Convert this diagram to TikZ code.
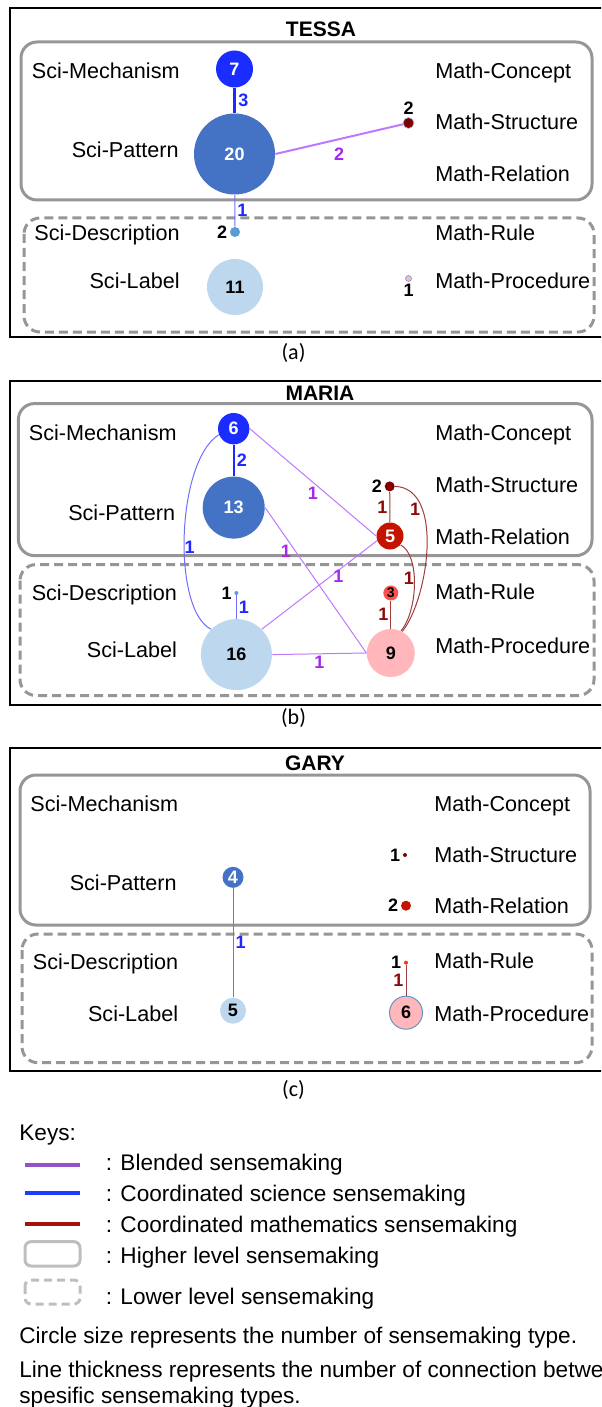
\documentclass[tikz,border=0pt]{standalone}
\usepackage{fontspec}
\setmainfont{Liberation Sans}
\newfontfamily\capfont{Carlito}
\usetikzlibrary{positioning}

\definecolor{smech}{RGB}{26,44,255}
\definecolor{spat}{RGB}{68,114,196}
\definecolor{sdesc}{RGB}{91,155,213}
\definecolor{slab}{RGB}{189,215,238}
\definecolor{mstruc}{RGB}{128,0,0}
\definecolor{mrel}{RGB}{196,20,0}
\definecolor{mrule}{RGB}{255,80,80}
\definecolor{mrulec}{RGB}{255,50,20}
\definecolor{mproc}{RGB}{255,183,187}
\definecolor{blendc}{RGB}{190,120,255}
\definecolor{blendt}{RGB}{165,40,235}
\definecolor{scic}{RGB}{30,40,255}
\definecolor{scithin}{RGB}{110,110,255}
\definecolor{mathc}{RGB}{160,60,60}
\definecolor{matht}{RGB}{140,10,10}
\definecolor{boxgray}{RGB}{150,150,150}
\definecolor{keygray}{RGB}{190,190,190}
\definecolor{keypurp}{RGB}{150,80,200}
\definecolor{keyblue}{RGB}{30,60,255}
\definecolor{keyred}{RGB}{165,20,10}

\begin{document}
\begin{tikzpicture}[x=0.5pt, y=-0.5pt,
  ptitle/.style={font=\fontsize{10.5}{12}\selectfont\bfseries, text height=7.5pt, text depth=0pt, inner sep=0pt},
  sciname/.style={anchor=east, font=\fontsize{10.8}{13}\selectfont, text height=7.7pt, text depth=0pt, inner sep=0pt},
  mathname/.style={sciname, anchor=west},
  sense/.style={circle, inner sep=0pt, minimum size=#1, font=\fontsize{9}{9}\selectfont\bfseries},
  cnt/.style={font=\fontsize{9}{9}\selectfont\bfseries, inner sep=1pt},
  wt/.style={font=\fontsize{9}{9}\selectfont\bfseries, inner sep=1pt, text=#1},
  bl/.style={draw=blendc, line width=#1}, bl/.default=0.5pt,
  scthick/.style={draw=scic, line width=#1},
  sc/.style={draw=scithin, line width=0.5pt},
  mt/.style={draw=mathc, line width=0.5pt},
  hibox/.style={draw=boxgray, line width=1.5pt, rounded corners=8pt},
  lobox/.style={hibox, dash pattern=on 4.5pt off 2.5pt},
  pframe/.style={draw=black, line width=1pt},
  capt/.style={font=\capfont\fontsize{11}{13}\selectfont},
  keytext/.style={anchor=west, font=\fontsize{11.3}{13}\selectfont, text height=8.1pt, text depth=0pt, inner sep=0pt}]
  \useasboundingbox (0,0) rectangle (601,1407);
  \clip (0,0) rectangle (601,1407);

  % (a) TESSA
  \draw[pframe] (9.6,8.4) rectangle (610,337);
  \node[ptitle] (ttlA) at (321,29.5) {TESSA};
  \draw[hibox] (21,42) rectangle (592,200);
  \draw[lobox] (24,218) rectangle (594,332);
  \node[sciname] (tsmA) at (180,70.5) {Sci-Mechanism};
  \node[sciname] (tspA) at (179,150) {Sci-Pattern};
  \node[sciname] (tsdA) at (180,233) {Sci-Description};
  \node[sciname] (tslA) at (180,281) {Sci-Label};
  \node[mathname] (tmcA) at (435,70.5) {Math-Concept};
  \node[mathname] (tmsA) at (435,121.5) {Math-Structure};
  \node[mathname] (tmrA) at (435,174) {Math-Relation};
  \node[mathname] (tmuA) at (435,233) {Math-Rule};
  \node[mathname] (tmpA) at (435,281) {Math-Procedure};
  \node[sense=18.5pt, fill=smech, text=white] (mechA) at (234.5,69) {7};
  \node[sense=40.5pt, fill=spat, text=white] (patA) at (234.5,154) {20};
  \node[sense=5pt, fill=sdesc, label={[cnt]left:2}] (sdA) at (235,232) {};
  \node[sense=28pt, fill=slab] (labA) at (235,287) {11};
  \node[sense=5.5pt, fill=mstruc, draw=sdesc!50, line width=0.3pt, label={[cnt]above:2}] (msA) at (408.5,123) {};
  \node[sense=3pt, fill=mproc, draw=sdesc, line width=0.3pt, label={[cnt]below:1}] (procA) at (408.5,278.5) {};
  \draw[scthick=1.75pt] (mechA) -- node[wt=scic, right]{3} (patA);
  \draw[bl=1pt] (patA.east) -- node[wt=blendt, pos=0.5, below=2.8pt]{2} (msA);
  \draw[sc] (patA) -- node[wt=scic, right]{1} (sdA);

  % (b) MARIA
  \draw[pframe] (9.6,381) rectangle (610,704.6);
  \node[ptitle] (ttlB) at (320,393) {MARIA};
  \draw[hibox] (18.4,403.6) rectangle (592,555.6);
  \draw[lobox] (20,564.6) rectangle (594,695.5);
  \node[sciname] (tsmB) at (177,433) {Sci-Mechanism};
  \node[sciname] (tspB) at (175.5,512.6) {Sci-Pattern};
  \node[sciname] (tsdB) at (177.4,593) {Sci-Description};
  \node[sciname] (tslB) at (177.4,649.5) {Sci-Label};
  \node[mathname] (tmcB) at (435,433) {Math-Concept};
  \node[mathname] (tmsB) at (435,485) {Math-Structure};
  \node[mathname] (tmrB) at (435,537) {Math-Relation};
  \node[mathname] (tmuB) at (435,592) {Math-Rule};
  \node[mathname] (tmpB) at (435,646) {Math-Procedure};
  \node[sense=15.7pt, fill=smech, text=white] (mechB) at (233.7,428.7) {6};
  \node[sense=31pt, fill=spat, text=white] (patB) at (233.7,507.6) {13};
  \node[sense=2pt, fill=sdesc, label={[cnt]left:1}] (sdB) at (236.4,593) {};
  \node[sense=35.5pt, fill=slab] (labB) at (236.4,654.6) {16};
  \node[sense=5pt, fill=mstruc, label={[cnt]left:2}] (msB) at (389.7,486.4) {};
  \node[sense=13.5pt, fill=mrel, text=white] (relB) at (390,536) {5};
  \node[sense=7.5pt, fill=mrule, font=\fontsize{7}{7}\selectfont\bfseries] (ruleB) at (390.8,593) {3};
  \node[sense=24pt, fill=mproc] (procB) at (390.8,653) {9};
  \draw[scthick=1.2pt] (mechB) -- node[wt=scic, right]{2} (patB);
  \draw[sc] (mechB.202) .. controls (176,462) and (172,610) .. node[wt=scic, pos=0.55, right=-1pt]{1} (labB.135);
  \draw[bl] (mechB.east) -- node[wt=blendt, pos=0.5, below=1pt]{1} (relB.west);
  \draw[bl] (patB.east) -- node[wt=blendt, pos=0.3, left=1pt]{1} (procB.west);
  \draw[bl] (labB.45) -- node[wt=blendt, pos=0.6, right=0pt]{1} (relB.200);
  \draw[bl] (labB.east) -- node[wt=blendt, below]{1} (procB.west);
  \draw[sc] (sdB) -- node[wt=scic, right]{1} (labB);
  \draw[mt] (msB) -- node[wt=matht, left]{1} (relB);
  \draw[mt] (msB.east) .. controls (445,488) and (428,600) .. node[wt=matht, pos=0.28, left]{1} (procB.62);
  \draw[mt] (relB.-40) .. controls (420,555) and (418,610) .. node[wt=matht, pos=0.45, left, inner sep=0pt]{1} (procB.65);
  \draw[mt] (ruleB) -- node[wt=matht, left]{1} (procB);

  % (c) GARY
  \draw[pframe] (9.6,748.3) rectangle (610,1071);
  \node[ptitle] (ttlC) at (315,763) {GARY};
  \draw[hibox] (20,775) rectangle (590,925);
  \draw[lobox] (22,934) rectangle (592,1062.7);
  \node[sciname] (tsmC) at (178.5,804) {Sci-Mechanism};
  \node[sciname] (tspC) at (177,882.7) {Sci-Pattern};
  \node[sciname] (tsdC) at (178.5,961.7) {Sci-Description};
  \node[sciname] (tslC) at (178.5,1013.3) {Sci-Label};
  \node[mathname] (tmcC) at (434,804) {Math-Concept};
  \node[mathname] (tmsC) at (434,855) {Math-Structure};
  \node[mathname] (tmrC) at (434,906) {Math-Relation};
  \node[mathname] (tmuC) at (434,960.7) {Math-Rule};
  \node[mathname] (tmpC) at (434,1013.3) {Math-Procedure};
  \node[sense=10.5pt, fill=spat, text=white] (patC) at (233,877.3) {4};
  \node[sense=13pt, fill=slab] (labC) at (233,1010.7) {5};
  \node[sense=2pt, fill=mstruc, label={[cnt]left:1}] (msC) at (405,855) {};
  \node[sense=5pt, fill=mrel, label={[cnt]left:2}] (mrC) at (406,905.7) {};
  \node[sense=2pt, fill=mrulec, label={[cnt]left:1}] (ruleC) at (406,962.7) {};
  \node[sense=16.5pt, fill=mproc, draw=sdesc!80!gray, line width=0.5pt] (procC) at (406,1012.7) {6};
  \draw[sc] (patC) -- node[wt=scic, right]{1} (labC);
  \draw[mt] (ruleC) -- node[wt=matht, left]{1} (procC);

  % captions
  \node[capt] (capA) at (293.5,353) {(a)};
  \node[capt] (capB) at (293.5,718) {(b)};
  \node[capt] (capC) at (293.5,1090) {(c)};

  % keys
  \node[keytext] (keys) at (19,1132.7) {Keys:};
  \draw[draw=keypurp, line width=2pt] (25,1165) -- (80,1165);
  \draw[draw=keyblue, line width=2pt] (25,1193.3) -- (80,1193.3);
  \draw[draw=keyred, line width=2pt] (25,1224.3) -- (80,1224.3);
  \draw[draw=keygray, line width=1.5pt, rounded corners=3pt] (25,1241.7) rectangle (80,1266);
  \draw[draw=keygray, line width=1.5pt, rounded corners=3pt, dash pattern=on 4pt off 2.5pt] (25,1280) rectangle (80,1304);
  \node[keytext] (kblend) at (105.4,1162.7) {: Blended sensemaking};
  \node[keytext] (ksci) at (105.4,1193) {: Coordinated science sensemaking};
  \node[keytext] (kmath) at (105.4,1224) {: Coordinated mathematics sensemaking};
  \node[keytext] (khigh) at (105.4,1255) {: Higher level sensemaking};
  \node[keytext] (klow) at (105.4,1296.7) {: Lower level sensemaking};
  \node[keytext] (note1) at (19,1335) {Circle size represents the number of sensemaking type.};
  \node[keytext] (note2) at (19,1369) {Line thickness represents the number of connection between};
  \node[keytext] (note3) at (19,1395) {spesific sensemaking types.};
\end{tikzpicture}
\end{document}
